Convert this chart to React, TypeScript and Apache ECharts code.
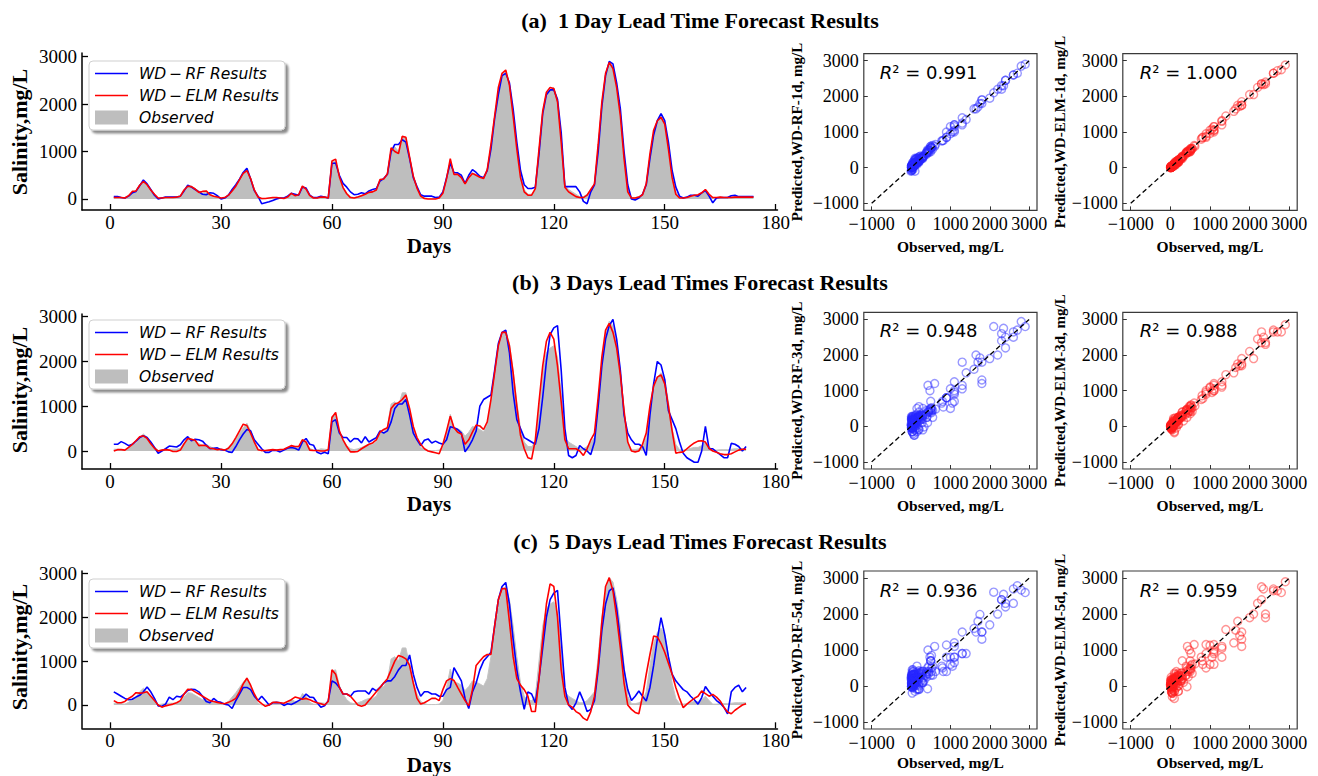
import React, { useEffect, useRef } from 'react';
import * as echarts from 'echarts';

// ---------------- DATA ----------------
const observed = [
  40, 40, 30, 20, 60, 150, 180, 300, 380, 300,
  200, 100, 10, 20, 30, 40, 40, 40, 60, 180,
  280, 270, 220, 170, 120, 150, 100, 60, 50, 10,
  30, 80, 180, 280, 400, 520, 620, 450, 200, 40,
  0, 10, 20, 20, 30, 20, 10, 40, 130, 80,
  80, 260, 200, 60, 20, 20, 50, 40, 30, 780,
  800, 450, 250, 120, 50, 30, 50, 80, 120, 150,
  150, 200, 400, 420, 550, 1050, 1100, 1000, 1300, 1300,
  900, 500, 250, 80, 30, 10, 10, 10, 20, 100,
  400, 820, 520, 500, 450, 330, 420, 550, 520, 480,
  430, 600, 1100, 1700, 2300, 2600, 2700, 2400, 1800, 1100,
  500, 200, 100, 100, 200, 1000, 1800, 2200, 2300, 2350,
  2100, 1300, 300, 200, 150, 100, 50, 50, 100, 200,
  300, 1100, 2000, 2600, 2900, 2800, 2400, 1800, 900, 200,
  30, 30, 50, 100, 300, 900, 1400, 1650, 1750, 1600,
  1100, 500, 150, 30, 20, 30, 60, 80, 80, 120,
  200, 100, 20, 20, 30, 30, 30, 40, 50, 50,
  50, 50, 50, 50,
];

const rf1 = [
  50, 50, 30, 20, 60, 130, 160, 280, 400, 320,
  200, 80, 0, 20, 40, 40, 40, 40, 60, 170,
  290, 250, 200, 150, 100, 90, 130, 120, 70, 0,
  20, 80, 200, 300, 420, 560, 650, 420, 180, 60,
  -100, -80, -60, -30, 0, 20, 20, 60, 120, 100,
  80, 250, 230, 80, 30, 30, 60, 40, 20, 750,
  760, 500, 330, 250, 150, 90, 100, 130, 110, 170,
  200, 220, 380, 430, 520, 1000, 1150, 1150, 1250, 1200,
  850, 450, 260, 90, 60, 60, 60, 30, 40, 150,
  450, 760, 560, 550, 500, 330, 500, 620, 560, 480,
  450, 600, 1050, 1700, 2200, 2600, 2650, 2450, 1900, 1200,
  600, 300, 220, 220, 250, 950, 1800, 2200, 2300, 2300,
  2100, 1400, 260, 260, 260, 260, 150, -50, -100, 150,
  300, 1000, 1950, 2600, 2900, 2850, 2450, 1900, 1000, 300,
  0, -20, 20, 100, 300, 850, 1350, 1650, 1800, 1650,
  1200, 600, 250, 60, 20, 40, 80, 80, 60, 130,
  180, 60, -80, 20, 30, 30, 30, 70, 80, 50,
  50, 50, 50, 50,
];

const elm1 = [
  30, 30, 30, 20, 70, 160, 170, 290, 370, 300,
  190, 100, 20, 20, 30, 30, 30, 40, 60, 190,
  270, 260, 210, 140, 160, 170, 90, 60, 40, 20,
  30, 80, 170, 270, 410, 540, 600, 430, 190, 40,
  10, 10, 20, 30, 30, 20, 10, 40, 120, 70,
  90, 270, 210, 70, 20, 20, 40, 40, 20, 800,
  840, 470, 240, 110, 30, 20, 40, 70, 100, 140,
  150, 190, 410, 420, 530, 1080, 1000, 960, 1320, 1300,
  880, 480, 230, 60, 10, 0, 0, 0, 20, 120,
  430, 850, 520, 520, 450, 320, 450, 540, 500, 460,
  430, 620, 1150, 1750, 2350, 2650, 2720, 2400, 1750, 1050,
  450, 150, 80, 80, 220, 1050, 1850, 2250, 2350, 2330,
  2050, 1200, 250, 150, 100, 50, 30, 30, 80, 200,
  320, 1150, 2050, 2650, 2880, 2750, 2350, 1750, 850, 150,
  20, 20, 40, 90, 320, 950, 1450, 1650, 1720, 1580,
  1050, 450, 100, 20, 20, 30, 60, 80, 90, 130,
  200, 100, 30, 30, 40, 30, 30, 30, 40, 40,
  40, 40, 40, 40,
];

const rf3 = [
  150, 150, 210, 170, 120, 150, 220, 300, 340, 300,
  200, 80, -50, 0, 50, 110, 100, 90, 140, 250,
  320, 230, 260, 250, 220, 130, 50, 60, 70, 30,
  20, -20, -30, 100, 250, 380, 480, 450, 250, 150,
  50, -30, -30, 20, 10, -20, 20, 60, 80, 60,
  20, 200, 280, 150, 130, -30, -60, -30, -60, 650,
  700, 400, 300, 300, 200, 280, 270, 180, 320, 200,
  250, 300, 450, 400, 450, 650, 950, 1050, 1050, 1150,
  800, 400, 250, 120, 240, 270, 180, 220, 180, 150,
  250, 540, 520, 480, 400, -20, 100, 250, 450, 1000,
  1150, 1200, 1250, 1800, 2400, 2650, 2700, 2200, 1300, 700,
  500, 300, 250, 200, 150, 500, 1200, 2000, 2600, 2750,
  2800, 1800, 500, -100, -150, -100, 120, 50, 0, -80,
  200, 1000, 1900, 2500, 2800, 2940, 2500, 1800, 800, 400,
  250, 150, 150, 100, -100, 800, 1500, 2000, 1920, 1600,
  900, 700, 500, 200, -50, -150, -200, -250, -250, 0,
  550, 50, 50, -20, -80, -150, -150, 170, 150, 100,
  0, 100,
];

const elm3 = [
  0, 30, 30, 20, 80, 150, 230, 320, 340, 280,
  160, 60, 0, 20, 30, 20, -10, -10, 20, 160,
  280, 260, 240, 120, 130, 120, 60, 50, 30, 40,
  20, 60, 160, 300, 450, 600, 570, 400, 200, 30,
  10, 10, 20, 30, 20, 30, 40, 80, 120, 100,
  100, 250, 200, 20, 10, 10, 0, 0, 30, 750,
  860, 450, 250, 100, -20, -20, -10, 50, 100, 150,
  180, 250, 420, 480, 520, 950, 1050, 1080, 1150, 1250,
  950, 550, 300, 150, 50, 0, -20, -40, -60, 150,
  450, 780, 520, 420, 380, 150, 250, 420, 580, 560,
  480, 650, 1150, 1750, 2350, 2650, 2650, 2350, 1750, 1000,
  350, 50, -150, -180, 250, 1100, 1900, 2450, 2650, 2500,
  1900, 1100, 250, 50, 50, 50, 0, -100, 50, 250,
  400, 1200, 2100, 2700, 2850, 2650, 2300, 1700, 900, 200,
  0, -20, 0, 150, 400, 1000, 1450, 1650, 1700, 1500,
  1000, 450, -50, -30, -20, 50, 120, 180, 220, 230,
  200, 60, 0, -30, -60, -80, -80, -60, -20, 20,
  40, 40,
];

const rf5 = [
  300, 250, 200, 150, 120, 130, 180, 220, 300, 410,
  300, 150, -20, -30, 20, 180, 120, 200, 180, 250,
  330, 360, 350, 300, 200, 80, 50, 150, 80, 60,
  20, 0, -80, 100, 250, 400, 400, 350, 200, 100,
  200, 100, 0, 50, 60, 50, -10, 30, 10, 50,
  100, 150, 250, 180, 170, 50, -50, -20, 100, 550,
  500, 400, 250, 250, 200, 300, 320, 320, 320, 250,
  380, 320, 400, 500, 550, 550, 650, 800, 900, 900,
  1140, 700, 400, 200, 300, 300, 250, 250, 200, 200,
  350, 400, 850, 700, 550, 150, -80, 300, 500, 800,
  1000, 1100, 1200, 1800, 2400, 2700, 2790, 2300, 1500, 800,
  300, -100, 300, 250, 50, 600, 1300, 2000, 2400, 2550,
  2610, 1500, 400, 0, -100, 50, 300, 100, -150, -100,
  100, 800, 1700, 2300, 2600, 2670, 2200, 1500, 800, 350,
  100, 200, 320, 200, 90, 400, 900, 1500, 1990, 1600,
  1100, 700, 550, 450, 350, 300, 200, 120, 20, 170,
  420, 300, 200, 100, 40, -50, -200, 300, 400, 450,
  300, 400,
];

const elm5 = [
  100, 50, 50, 80, 150, 200, 280, 270, 280, 300,
  200, 100, 0, -50, -20, 0, 20, 50, 100, 250,
  360, 350, 300, 250, 200, 150, 100, 80, 60, 40,
  30, 60, 100, 150, 300, 480, 610, 450, 250, 100,
  30, -30, 0, 60, 60, 50, 40, 80, 120, 180,
  160, 130, 150, 120, 80, 50, 30, 0, 80, 800,
  700, 400, 250, 250, 200, 100, 0, -30, 0, 100,
  200, 300, 400, 500, 600, 800, 1000, 1130, 1100, 1050,
  900, 500, 150, 20, 50, 100, 150, 150, 100, 350,
  550, 600, 560, 400, 250, 100, -20, 350, 900, 1000,
  1100, 1150, 1150, 1800, 2400, 2650, 2650, 1900, 1100, 600,
  450, 350, 200, -150, -150, 600, 1500, 2300, 2760, 2700,
  2000, 800, 200, 0, -50, -150, -200, -300, -350, -150,
  200, 900, 1900, 2700, 2900, 2600, 2000, 1300, 500, 0,
  -100, -170, -200, 200, 700, 1150, 1570, 1550, 1400, 1200,
  950, 700, 400, 150, -60, 20, 90, 150, 200, 320,
  260, 200, 240, 180, 90, -50, -160, -200, -120, -60,
  0, 30,
];

const rowLetters = ['(a)', '(b)', '(c)'];
const rowTitles = [
  '1 Day Lead Time Forecast Results',
  '3 Days Lead Times Forecast Results',
  '5 Days Lead Times Forecast Results',
];
const leadTags = ['1d', '3d', '5d'];
const r2Rf = ['0.991', '0.948', '0.936'];
const r2Elm = ['1.000', '0.988', '0.959'];
const rowLengths = [174, 172, 172];
const rfPreds = [rf1, rf3, rf5];
const elmPreds = [elm1, elm3, elm5];

const timeTicks = [0, 30, 60, 90, 120, 150, 180];
const salinityTicks = [0, 1000, 2000, 3000];
const scatterTicks = [-1000, 0, 1000, 2000, 3000];
const diagLine = [[-1000, -1000], [3000, 3000]];

const NAME_RF = 'WD\u2009\u2212\u2009RF Results';
const NAME_ELM = 'WD\u2009\u2212\u2009ELM Results';
const NAME_OBS = 'Observed';
const legendNames = [NAME_RF, NAME_ELM, NAME_OBS];

// ---------------- LAYOUT / STYLE ----------------
const layout = [
  { tsTop: 53, tsH: 157, yMin: -232, yMax: 3078, scTop: 53.6, scH: 156.8, title: 20, days: 246, sal: 132, obsLbl: 246, r2: 72, legendTop: 61 },
  { tsTop: 314, tsH: 155, yMin: -402, yMax: 3060, scTop: 312.3, scH: 156.7, title: 282, days: 504, sal: 390, obsLbl: 505, r2: 330, legendTop: 320 },
  { tsTop: 571, tsH: 157.3, yMin: -531, yMax: 3052, scTop: 571, scH: 158, title: 541, days: 765, sal: 647, obsLbl: 762, r2: 590, legendTop: 579 },
];
const TS_LEFT = 82;
const TS_W = 695.5;
const SC1_LEFT = 863.8;
const SC1_W = 173.2;
const SC2_LEFT = 1122.8;
const SC2_W = 174.4;

const SERIF = '"Liberation Serif", "Times New Roman", serif';
const SANS = '"DejaVu Sans", sans-serif';
const OBS_GRAY = '#bebebe';
const legendColors = ['#0000ff', '#ff0000', OBS_GRAY];

const fmtPlain = (v: number) => String(v);
const fmtMinus = (v: number) => (v < 0 ? '\u2212' + Math.abs(v) : String(v));

function buildOption() {
  const grid: any[] = [];
  const xAxis: any[] = [];
  const yAxis: any[] = [];
  const series: any[] = [];
  const graphic: any[] = [];

  layout.forEach((L, r) => {
    const n = rowLengths[r];
    const obs = observed.slice(0, n);
    const rf = rfPreds[r];
    const elm = elmPreds[r];
    const gTs = r * 3;
    const gS1 = r * 3 + 1;
    const gS2 = r * 3 + 2;

    grid.push({ left: TS_LEFT, top: L.tsTop, width: TS_W, height: L.tsH });
    grid.push({ left: SC1_LEFT, top: L.scTop, width: SC1_W, height: L.scH, show: true, borderColor: '#3a3a3a', borderWidth: 1.2, backgroundColor: 'transparent' });
    grid.push({ left: SC2_LEFT, top: L.scTop, width: SC2_W, height: L.scH, show: true, borderColor: '#3a3a3a', borderWidth: 1.2, backgroundColor: 'transparent' });

    xAxis.push({
      type: 'value', gridIndex: gTs, min: -7.6, max: 180.5,
      axisLine: { show: true, onZero: false, lineStyle: { color: '#000', width: 1.5 } },
      axisTick: { show: true, inside: true, length: 6, customValues: timeTicks, lineStyle: { color: '#000', width: 1.3 } },
      axisLabel: { show: true, customValues: timeTicks, margin: 3, color: '#000', fontFamily: SERIF, fontSize: 19, formatter: fmtPlain },
      splitLine: { show: false },
    });
    yAxis.push({
      type: 'value', gridIndex: gTs, min: L.yMin, max: L.yMax,
      axisLine: { show: true, onZero: false, lineStyle: { color: '#000', width: 1.5 } },
      axisTick: { show: true, inside: true, length: 6, customValues: salinityTicks, lineStyle: { color: '#000', width: 1.3 } },
      axisLabel: { show: true, customValues: salinityTicks, margin: 5, color: '#000', fontFamily: SERIF, fontSize: 19, formatter: fmtPlain },
      splitLine: { show: false },
    });
    [gS1, gS2].forEach((g) => {
      xAxis.push({
        type: 'value', gridIndex: g, min: -1200, max: 3200,
        axisLine: { show: false, onZero: false },
        axisTick: { show: true, inside: true, length: 4, customValues: scatterTicks, lineStyle: { color: '#333', width: 1 } },
        axisLabel: { show: true, customValues: scatterTicks, margin: 5, color: '#000', fontFamily: SERIF, fontSize: 18, formatter: fmtMinus },
        splitLine: { show: false },
      });
      yAxis.push({
        type: 'value', gridIndex: g, min: -1200, max: 3200,
        axisLine: { show: false, onZero: false },
        axisTick: { show: true, inside: true, length: 4, customValues: scatterTicks, lineStyle: { color: '#333', width: 1 } },
        axisLabel: { show: true, customValues: scatterTicks, margin: 5, color: '#000', fontFamily: SERIF, fontSize: 18, formatter: fmtMinus },
        splitLine: { show: false },
      });
    });

    series.push({
      name: NAME_OBS, type: 'line', xAxisIndex: gTs, yAxisIndex: gTs,
      data: obs.map((v, i) => [i + 1, v]),
      showSymbol: false, symbol: 'none',
      lineStyle: { color: '#c4c4c4', width: 1 },
      itemStyle: { color: OBS_GRAY },
      areaStyle: { color: OBS_GRAY, opacity: 1, origin: 0 },
      z: 1,
    });
    series.push({
      name: NAME_RF, type: 'line', xAxisIndex: gTs, yAxisIndex: gTs,
      data: rf.map((v, i) => [i + 1, v]),
      showSymbol: false, symbol: 'none',
      lineStyle: { color: '#0000ff', width: 1.6 }, itemStyle: { color: '#0000ff' }, z: 2,
    });
    series.push({
      name: NAME_ELM, type: 'line', xAxisIndex: gTs, yAxisIndex: gTs,
      data: elm.map((v, i) => [i + 1, v]),
      showSymbol: false, symbol: 'none',
      lineStyle: { color: '#ff0000', width: 1.6 }, itemStyle: { color: '#ff0000' }, z: 3,
    });

    series.push({
      name: 'RF-' + leadTags[r], type: 'scatter', xAxisIndex: gS1, yAxisIndex: gS1,
      data: obs.map((v, i) => [v, rf[i]]),
      symbol: 'circle', symbolSize: 8,
      itemStyle: { color: 'rgba(0,0,0,0)', borderColor: 'rgba(40,40,255,0.6)', borderWidth: 1.4 },
      z: 2,
    });
    series.push({
      name: 'diagRF-' + leadTags[r], type: 'line', xAxisIndex: gS1, yAxisIndex: gS1,
      data: diagLine, showSymbol: false, symbol: 'none',
      lineStyle: { color: '#000', width: 1.3, type: [5, 3] }, z: 4,
    });
    series.push({
      name: 'ELM-' + leadTags[r], type: 'scatter', xAxisIndex: gS2, yAxisIndex: gS2,
      data: obs.map((v, i) => [v, elm[i]]),
      symbol: 'circle', symbolSize: 8,
      itemStyle: { color: 'rgba(0,0,0,0)', borderColor: 'rgba(255,30,30,0.6)', borderWidth: 1.4 },
      z: 2,
    });
    series.push({
      name: 'diagELM-' + leadTags[r], type: 'line', xAxisIndex: gS2, yAxisIndex: gS2,
      data: diagLine, showSymbol: false, symbol: 'none',
      lineStyle: { color: '#000', width: 1.3, type: [5, 3] }, z: 4,
    });

    // ---- legend box (drawn with graphic) ----
    const T = L.legendTop;
    const legendChildren: any[] = [
      {
        type: 'rect', shape: { x: 89, y: T, width: 196, height: 69, r: 4 },
        style: { fill: '#ffffff', stroke: '#cfcfcf', lineWidth: 1, shadowColor: 'rgba(0,0,0,0.45)', shadowOffsetX: 3, shadowOffsetY: 3, shadowBlur: 2 },
      },
    ];
    legendNames.forEach((nm, k) => {
      const cy = T + 12.5 + k * 22;
      if (k < 2) {
        legendChildren.push({ type: 'line', shape: { x1: 95, y1: cy, x2: 128, y2: cy }, style: { stroke: legendColors[k], lineWidth: 1.6 } });
      } else {
        legendChildren.push({ type: 'rect', shape: { x: 95, y: cy - 7, width: 33, height: 14 }, style: { fill: legendColors[k] } });
      }
      legendChildren.push({
        type: 'text', x: 139, y: cy,
        style: { text: nm, fill: '#000', fontFamily: SANS, fontStyle: 'italic', fontSize: 15.5, align: 'left', verticalAlign: 'middle' },
      });
    });
    graphic.push({ type: 'group', z: 50, children: legendChildren });

    // ---- texts ----
    graphic.push({
      type: 'text', x: 700, y: L.title,
      style: { text: rowLetters[r] + '  ' + rowTitles[r], fill: '#000', font: 'bold 22px ' + SERIF, align: 'center', verticalAlign: 'middle' },
    });
    graphic.push({
      type: 'text', x: 429, y: L.days,
      style: { text: 'Days', fill: '#000', font: 'bold 21px ' + SERIF, align: 'center', verticalAlign: 'middle' },
    });
    graphic.push({
      type: 'text', x: 19, y: L.sal, rotation: Math.PI / 2,
      style: { text: 'Salinity,mg/L', fill: '#000', font: 'bold 22px ' + SERIF, align: 'center', verticalAlign: 'middle' },
    });
    graphic.push({
      type: 'text', x: SC1_LEFT + SC1_W / 2, y: L.obsLbl,
      style: { text: 'Observed, mg/L', fill: '#000', font: 'bold 15.5px ' + SERIF, align: 'center', verticalAlign: 'middle' },
    });
    graphic.push({
      type: 'text', x: SC2_LEFT + SC2_W / 2, y: L.obsLbl,
      style: { text: 'Observed, mg/L', fill: '#000', font: 'bold 15.5px ' + SERIF, align: 'center', verticalAlign: 'middle' },
    });
    graphic.push({
      type: 'text', x: 797, y: L.scTop + L.scH / 2, rotation: Math.PI / 2,
      style: { text: 'Predicted,WD-RF-' + leadTags[r] + ', mg/L', fill: '#000', font: 'bold 15px ' + SERIF, align: 'center', verticalAlign: 'middle' },
    });
    graphic.push({
      type: 'text', x: 1060, y: L.scTop + L.scH / 2, rotation: Math.PI / 2,
      style: { text: 'Predicted,WD-ELM-' + leadTags[r] + ', mg/L', fill: '#000', font: 'bold 15px ' + SERIF, align: 'center', verticalAlign: 'middle' },
    });
    const r2Rich = {
      i: { fontFamily: SANS, fontStyle: 'italic', fontSize: 18, fill: '#000' },
      n: { fontFamily: SANS, fontSize: 18, fill: '#000' },
    };
    graphic.push({
      type: 'text', x: SC1_LEFT + 16, y: L.r2,
      style: { text: '{i|R}{n|\u00b2 = ' + r2Rf[r] + '}', rich: r2Rich, fill: '#000', fontSize: 18, fontFamily: SANS, align: 'left', verticalAlign: 'middle' },
    });
    graphic.push({
      type: 'text', x: SC2_LEFT + 17, y: L.r2,
      style: { text: '{i|R}{n|\u00b2 = ' + r2Elm[r] + '}', rich: r2Rich, fill: '#000', fontSize: 18, fontFamily: SANS, align: 'left', verticalAlign: 'middle' },
    });
  });

  return {
    animation: false,
    backgroundColor: '#ffffff',
    grid, xAxis, yAxis, series, graphic,
  };
}

export default function App() {
  const ref = useRef<HTMLDivElement>(null);
  useEffect(() => {
    if (!ref.current) return;
    const chart = echarts.init(ref.current, null, { renderer: 'svg' });
    chart.setOption(buildOption() as any);
    return () => chart.dispose();
  }, []);
  return (
    <div
      ref={ref}
      style={{ position: 'fixed', left: 0, top: 0, width: 1318, height: 776, background: '#fff' }}
    />
  );
}
